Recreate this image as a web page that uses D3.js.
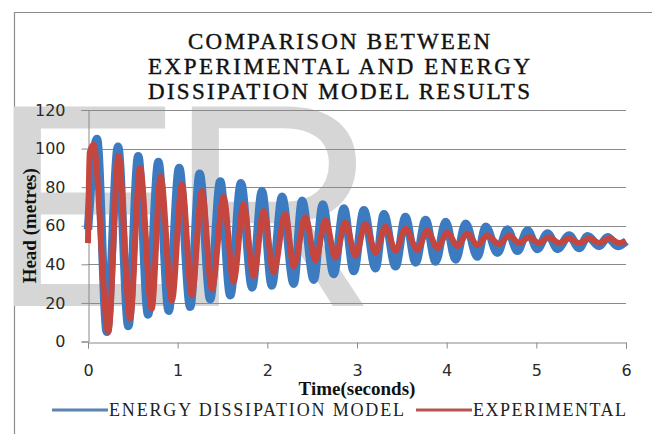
<!DOCTYPE html>
<html>
<head>
<meta charset="utf-8">
<script src="https://cdn.jsdelivr.net/npm/d3@7"></script>
<style>
  body { margin: 0; background: #fff; }
  svg { display: block; }
</style>
</head>
<body>
<script>
// turning points (peaks / troughs), time in seconds, head in metres
var modelTime = [0, 0.10, 0.21, 0.335, 0.45, 0.56, 0.67, 0.785, 0.90, 1.017, 1.14, 1.245, 1.363,
    1.475, 1.587, 1.706, 1.83, 1.94, 2.05, 2.164, 2.294, 2.388, 2.518, 2.618, 2.74, 2.853, 2.964,
    3.076, 3.207, 3.30, 3.43, 3.54, 3.654, 3.765, 3.877, 3.989, 4.10, 4.212, 4.343, 4.436, 4.566,
    4.678, 4.79, 4.902, 5.013, 5.125, 5.237, 5.366, 5.478, 5.572, 5.70, 5.795, 5.907, 6.0];
var modelHead = [58, 105, 5, 101, 8, 96, 14, 93, 16, 90, 18, 87, 22,
    83, 24, 82, 28, 78, 29, 75, 30, 73, 32, 71, 35, 69, 36.5,
    68, 38, 66, 39, 64.5, 41, 63, 41.5, 62, 42.5, 61, 44, 59.5, 46,
    58, 47, 57.5, 48, 56, 48, 55, 48.5, 54.5, 49.5, 54, 49.5, 52];

var expTime = [0, 0.02, 0.06, 0.227, 0.34, 0.47, 0.58, 0.71, 0.81, 0.935, 1.047, 1.158, 1.27, 1.382,
    1.512, 1.623, 1.735, 1.847, 1.959, 2.07, 2.20, 2.294, 2.425, 2.536, 2.648, 2.76, 2.87, 2.983,
    3.095, 3.207, 3.318, 3.43, 3.542, 3.672, 3.784, 3.896, 4.008, 4.12, 4.23, 4.343, 4.455, 4.585,
    4.696, 4.808, 4.92, 5.031, 5.143, 5.255, 5.366, 5.478, 5.59, 5.70, 5.813, 5.925, 6.0];
var expHead = [51, 98, 102, 5, 96, 12, 90, 17, 85.5, 21, 81.5, 24, 78, 27,
    75, 31, 71, 34, 67.5, 36, 66, 39, 64.5, 42, 63, 43.5, 62, 44.5,
    61, 46, 59.5, 47, 58.5, 47.5, 57.5, 48.5, 56.5, 49.5, 56, 50, 55, 50.5,
    55, 51, 54, 51, 54, 51, 53.5, 51, 53.5, 51, 53.5, 51, 52];

var xTicks = [0, 1, 2, 3, 4, 5, 6];
var yTicks = [0, 20, 40, 60, 80, 100, 120];

var titleLines = ["COMPARISON BETWEEN", "EXPERIMENTAL AND ENERGY", "DISSIPATION MODEL RESULTS"];
var seriesNames = ["ENERGY DISSIPATION MODEL", "EXPERIMENTAL"];
var seriesColors = ["#3d7bc1", "#c4463f"];

var W = 652, H = 434;
var plot = { left: 88, right: 626, top: 110, bottom: 341.5 };

var svg = d3.select("body").append("svg")
    .attr("width", W)
    .attr("height", H);

// chart frame
svg.append("path")
    .attr("d", "M14.5," + H + "V12.5H" + W)
    .attr("fill", "none")
    .attr("stroke", "#8a8a8a")
    .attr("stroke-width", 1.2);

// big grey watermark letters
var wm = svg.append("g")
    .attr("font-family", "Liberation Sans, Arial, sans-serif")
    .attr("font-size", 290)
    .attr("fill", "#d6d6d6");
wm.append("text").attr("x", -10).attr("y", 306).text("E");
wm.append("text").attr("x", 168).attr("y", 306).text("R");

var x = d3.scaleLinear().domain([0, 6]).range([plot.left, plot.right]);
var y = d3.scaleLinear().domain([0, 120]).range([plot.bottom, plot.top]);

// gridlines
svg.append("g")
    .selectAll("line")
    .data(yTicks.slice(1))
    .enter()
    .append("line")
    .attr("x1", plot.left)
    .attr("x2", plot.right)
    .attr("y1", function (d) { return Math.round(y(d)) + 0.5; })
    .attr("y2", function (d) { return Math.round(y(d)) + 0.5; })
    .attr("stroke", "#8a8a8a")
    .attr("stroke-width", 1);

var xAxis = d3.axisBottom(x).tickValues(xTicks).tickFormat(d3.format("d")).tickSize(6).tickPadding(16);
var yAxis = d3.axisLeft(y).tickValues(yTicks).tickFormat(d3.format("d")).tickSize(7).tickPadding(16);

var gx = svg.append("g")
    .attr("transform", "translate(0," + (Math.round(plot.bottom) + 0.5) + ")")
    .call(xAxis);
var gy = svg.append("g")
    .attr("transform", "translate(" + (plot.left + 0.5) + ",0)")
    .call(yAxis);

[gx, gy].forEach(function (g) {
    g.selectAll("path, line").attr("stroke", "#8a8a8a");
    g.selectAll("text")
        .attr("fill", "#2a2a2a")
        .attr("font-family", "DejaVu Sans, sans-serif")
        .attr("font-size", 16);
});

// series
var line = d3.line()
    .x(function (d) { return x(d[0]); })
    .y(function (d) { return y(d[1]); })
    .curve(d3.curveMonotoneX);

var modelData = modelTime.map(function (t, i) { return [t, modelHead[i]]; });
var expData = expTime.map(function (t, i) { return [t, expHead[i]]; });

svg.append("path")
    .datum(modelData)
    .attr("d", line)
    .attr("fill", "none")
    .attr("stroke", seriesColors[0])
    .attr("stroke-width", 8.5)
    .attr("stroke-linejoin", "round");

svg.append("path")
    .datum(expData)
    .attr("d", line)
    .attr("fill", "none")
    .attr("stroke", seriesColors[1])
    .attr("stroke-width", 6)
    .attr("stroke-linejoin", "round");

// title
var titleWidths = [302, 382, 382];
svg.append("g")
    .selectAll("text")
    .data(titleLines)
    .enter()
    .append("text")
    .attr("x", 339)
    .attr("y", function (d, i) { return 49 + i * 25; })
    .attr("text-anchor", "middle")
    .attr("font-family", "Liberation Serif, Times New Roman, serif")
    .attr("font-size", 23)
    .attr("fill", "#111")
    .attr("stroke", "#111")
    .attr("stroke-width", 0.4)
    .attr("textLength", function (d, i) { return titleWidths[i]; })
    .attr("lengthAdjust", "spacing")
    .text(function (d) { return d; });

// axis titles
svg.append("text")
    .attr("transform", "translate(36," + ((plot.top + plot.bottom) / 2) + ") rotate(-90)")
    .attr("text-anchor", "middle")
    .attr("font-family", "Liberation Serif, Times New Roman, serif")
    .attr("font-weight", "bold")
    .attr("font-size", 19)
    .attr("fill", "#111")
    .text("Head (metres)");

svg.append("text")
    .attr("x", 357)
    .attr("y", 395)
    .attr("text-anchor", "middle")
    .attr("font-family", "Liberation Serif, Times New Roman, serif")
    .attr("font-weight", "bold")
    .attr("font-size", 19)
    .attr("fill", "#111")
    .text("Time(seconds)");

// legend
var legendItems = [
    { name: seriesNames[0], color: "#5a84b4", x1: 52, x2: 108, tx: 109, tw: 295 },
    { name: seriesNames[1], color: "#b85450", x1: 416, x2: 472, tx: 473, tw: 153 }
];
var lg = svg.append("g");
legendItems.forEach(function (d) {
    lg.append("line")
        .attr("x1", d.x1).attr("x2", d.x2)
        .attr("y1", 410).attr("y2", 410)
        .attr("stroke", d.color)
        .attr("stroke-width", 3);
    lg.append("text")
        .attr("x", d.tx)
        .attr("y", 416)
        .attr("font-family", "Liberation Serif, Times New Roman, serif")
        .attr("font-size", 18)
        .attr("fill", "#222")
        .attr("textLength", d.tw)
        .attr("lengthAdjust", "spacing")
        .text(d.name);
});
</script>
</body>
</html>
